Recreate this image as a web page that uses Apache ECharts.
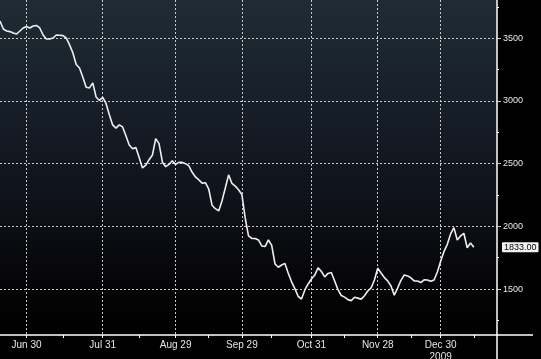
<!DOCTYPE html>
<html><head><meta charset="utf-8">
<script src="https://cdn.jsdelivr.net/npm/echarts@6/dist/echarts.min.js"></script>
<style>html,body{margin:0;padding:0;background:#000;overflow:hidden}#c{width:541px;height:359px}</style>
</head><body><div id="c"></div>
<script>
// daily closing values, one per slot
const values = [3638,3574,3558,3553,3542,3534,3558,3582,3594,3582,3598,3602,3582,3526,3494,3494,3502,3526,3524,3521,
3502,3447,3383,3291,3263,3189,3109,3104,3144,3032,3004,3028,2980,2890,2809,2783,2809,2793,2723,2649,
2619,2628,2549,2466,2488,2532,2569,2700,2660,2514,2476,2494,2523,2494,2510,2510,2500,2483,2431,2394,
2371,2345,2348,2298,2168,2141,2123,2203,2306,2411,2342,2321,2292,2254,2067,1925,1904,1904,1892,1844,
1839,1892,1848,1700,1674,1692,1705,1627,1558,1504,1441,1421,1493,1541,1581,1612,1670,1640,1597,1625,
1632,1565,1496,1449,1436,1416,1408,1435,1428,1420,1447,1485,1509,1573,1666,1629,1592,1566,1525,1452,
1509,1570,1612,1605,1590,1565,1565,1552,1574,1573,1562,1573,1636,1722,1799,1857,1940,1990,1892,1924,
1945,1830,1868,1833];
const lastValue = 1833.00;
const slotCount = 151;
const categories = Array.from({length: slotCount}, (_, i) => String(i));
const xLabelIdx = [8, 31, 53, 73, 94, 114, 133];
const xLabels = ['Jun 30', 'Jul 31', 'Aug 29', 'Sep 29', 'Oct 31', 'Nov 28', 'Dec 30\n2009'];
const xMinorIdx = [19, 42, 63, 82, 104, 124, 143];
const yTicks = [1500, 2000, 2500, 3000, 3500];
const yMinor = [1250, 1750, 2250, 2750, 3250, 3750];
const yMin = 1134, yMax = 3805;

const chart = echarts.init(document.getElementById('c'), null, {renderer: 'canvas'});
const gridCol = 'rgba(220,220,220,0.9)';
chart.setOption({
  animation: false,
  backgroundColor: '#000',
  grid: {
    left: 0, right: 44, top: 0, bottom: 24, show: true, borderWidth: 0,
    containLabel: false, outerBoundsMode: 'none',
    backgroundColor: {type: 'linear', x: 0, y: 0, x2: 0, y2: 1, colorStops: [
      {offset: 0, color: '#1f2c34'}, {offset: 0.3, color: '#171f29'},
      {offset: 0.6, color: '#0f121a'}, {offset: 0.85, color: '#050507'}, {offset: 1, color: '#000'}]}
  },
  xAxis: {
    type: 'category', data: categories, boundaryGap: false,
    axisLine: {lineStyle: {color: '#fff', width: 1.5}},
    axisTick: {length: 3, lineStyle: {color: '#fff'},
      interval: (i) => xLabelIdx.includes(i) || xMinorIdx.includes(i)},
    axisLabel: {interval: (i) => xLabelIdx.includes(i),
      formatter: (v, i) => { const k = xLabelIdx.indexOf(i); return k >= 0 ? xLabels[k] : ''; },
      color: '#e6e6e6', fontSize: 10, fontFamily: '"Liberation Sans Narrow", "Arial Narrow", sans-serif',
      lineHeight: 12, margin: 4},
    splitLine: {show: true, interval: (i) => xLabelIdx.includes(i),
      lineStyle: {color: gridCol, type: [2, 2], width: 1}}
  },
  yAxis: [{
    type: 'value', position: 'right', min: yMin, max: yMax,
    axisLine: {show: true, lineStyle: {color: '#fff', width: 1.5}},
    axisTick: {show: true, customValues: yTicks, length: 4, lineStyle: {color: '#ccc'}},
    axisLabel: {customValues: yTicks, formatter: (v) => String(v), color: '#e6e6e6', fontSize: 9,
      fontFamily: '"Liberation Sans", Arial, sans-serif', margin: 6},
    splitLine: {show: true, lineStyle: {color: gridCol, type: [2, 2], width: 1}}
  }, {
    type: 'value', position: 'right', min: yMin, max: yMax,
    axisLine: {show: false},
    axisTick: {show: true, customValues: yMinor, length: 2, lineStyle: {color: '#fff'}},
    axisLabel: {show: false},
    splitLine: {show: false}
  }, {
    type: 'value', position: 'right', min: yMin, max: yMax,
    axisLine: {show: false}, axisTick: {show: false}, splitLine: {show: false},
    axisLabel: {customValues: [lastValue], formatter: (v) => v.toFixed(2),
      color: '#000', backgroundColor: '#f2f2f2', padding: [1, 2, 0, 2], borderRadius: 1,
      fontSize: 9, fontFamily: '"Liberation Sans", Arial, sans-serif', margin: 5}
  }],
  series: [{
    type: 'line', data: values, yAxisIndex: 0, symbol: 'none', smooth: false,
    lineStyle: {color: '#eeeeee', width: 1.6}
  }],
  graphic: [
    {type: 'line', shape: {x1: 497, y1: 335, x2: 533, y2: 335}, style: {stroke: '#fff', lineWidth: 1.5}},
    {type: 'line', shape: {x1: 497, y1: 335, x2: 497, y2: 359}, style: {stroke: '#fff', lineWidth: 1.5}}
  ]
});
</script></body></html>
